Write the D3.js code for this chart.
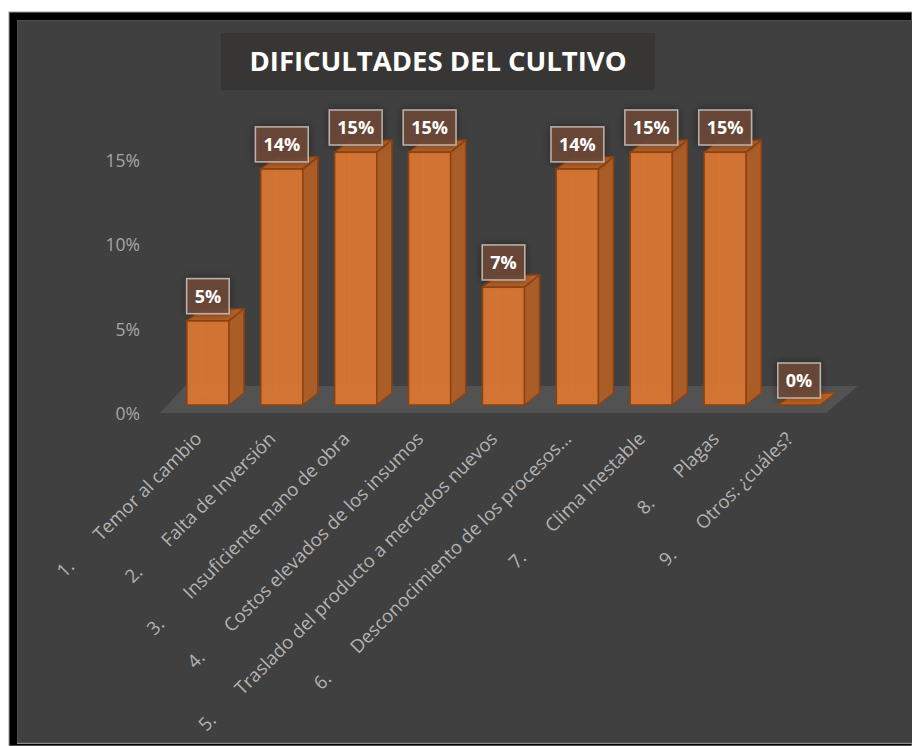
<!DOCTYPE html>
<html>
<head>
<meta charset="utf-8">
<script src="https://cdn.jsdelivr.net/npm/d3@7"></script>
<style>
  body { margin: 0; background: #fff; }
  svg { display: block; font-family: "Open Sans", sans-serif; }
</style>
</head>
<body>
<div id="chart"></div>
<script>
var numeros = ["1.", "2.", "3.", "4.", "5.", "6.", "7.", "8.", "9."]
var categorias = ["Temor al cambio", "Falta de Inversión", "Insuficiente mano de obra", "Costos elevados de los insumos", "Traslado del producto a mercados nuevos", "Desconocimiento de los procesos...", "Clima Inestable", "Plagas", "Otros: ¿cuáles?"]
var porcentajes = [0.05, 0.14, 0.15, 0.15, 0.07, 0.14, 0.15, 0.15, 0]
var ticksY = [0, 0.05, 0.10, 0.15]
var titulo = "DIFICULTADES DEL CULTIVO"

var data = categorias.map((c, i) => ({num: numeros[i], cat: c, val: porcentajes[i]}))

function barChart3d(data) {
    var W = 912, H = 746
    var dx = 15, dy = -12       // depth of the 3d bars
    var lift = 9                // bars stand a bit behind the axis zero

    var svg = d3.select("#chart").append("svg")
        .attr("width", W)
        .attr("height", H)

    var defs = svg.append("defs")
    defs.append("filter").attr("id", "sombra")
        .attr("x", "-50%").attr("y", "-50%").attr("width", "200%").attr("height", "200%")
        .append("feDropShadow")
        .attr("dx", 0).attr("dy", 0).attr("stdDeviation", 4)
        .attr("flood-color", "#000").attr("flood-opacity", 0.45)

    // frame
    svg.append("rect").attr("x", 9).attr("y", 12).attr("width", W - 9).attr("height", H - 12)
        .attr("fill", "#000").attr("stroke", "#9a9a9a").attr("stroke-width", 1)
    svg.append("rect").attr("x", 17.5).attr("y", 20.5).attr("width", W - 17).attr("height", 722)
        .attr("fill", "#404040").attr("stroke", "#4d4d4d").attr("stroke-width", 1)
    svg.append("line").attr("x1", 17).attr("x2", W).attr("y1", 743.5).attr("y2", 743.5)
        .attr("stroke", "#8a8a8a").attr("stroke-width", 1)

    // title
    svg.append("rect").attr("x", 221).attr("y", 33).attr("width", 434).attr("height", 57)
        .attr("fill", "#383634")
    svg.append("text")
        .attr("x", 438).attr("y", 71)
        .attr("text-anchor", "middle")
        .attr("font-size", "26px").attr("font-weight", "bold")
        .attr("fill", "#fff")
        .attr("textLength", 377).attr("lengthAdjust", "spacingAndGlyphs")
        .text(titulo)

    var xScale = d3.scaleBand()
        .domain(data.map(d => d.cat))
        .range([171, 836])
        .paddingInner(0.43)
        .paddingOuter(0.215)

    var yScale = d3.scaleLinear()
        .domain([0, 0.15])
        .range([414, 161])

    var bw = xScale.bandwidth()
    var base = yScale(0) - lift
    var r0 = xScale.range()[0], r1 = xScale.range()[1]

    // floor
    svg.append("path")
        .attr("d", `M${r0 - 11},${yScale(0) - 1} L${r0 + 14},386 L${r1 + 22},386 L${r1 - 10},${yScale(0) - 1} Z`)
        .attr("fill", "#525252")

    // y axis
    var gy = svg.append("g")
        .attr("transform", "translate(140,0)")
        .call(d3.axisLeft(yScale).tickValues(ticksY).tickFormat(d3.format(".0%")).tickSize(0).tickPadding(0))
    gy.select(".domain").remove()
    gy.selectAll("text")
        .attr("font-family", "Open Sans")
        .attr("font-size", "17.5px")
        .attr("fill", "#a6a6a6")

    // bars
    var bars = svg.selectAll(".bar")
        .data(data)
        .enter().append("g")
        .attr("class", "bar")

    var stroke = "#8f4210"

    bars.each(function(d) {
        var g = d3.select(this)
        var x0 = xScale(d.cat), x1 = x0 + bw
        var yt = yScale(d.val) - lift
        // hidden back edges seen through the bar
        g.append("path")
            .attr("d", `M${x0},${base} L${x0 + dx},${base + dy} L${x1 + dx},${base + dy} M${x0 + dx},${base + dy} L${x0 + dx},${yt + dy}`)
            .attr("fill", "none").attr("stroke", "#e0843d").attr("stroke-width", 1).attr("opacity", 0.8)
        if (base - yt > 0.5) {
            g.append("rect")
                .attr("x", x0).attr("y", yt).attr("width", bw).attr("height", base - yt)
                .attr("fill", "#d87633").attr("fill-opacity", 0.95)
                .attr("stroke", stroke).attr("stroke-width", 1.5)
            g.append("path")
                .attr("d", `M${x1},${yt} L${x1 + dx},${yt + dy} L${x1 + dx},${base + dy} L${x1},${base} Z`)
                .attr("fill", "#ab5d28")
                .attr("stroke", stroke).attr("stroke-width", 1.5).attr("stroke-linejoin", "round")
        }
        g.append("path")
            .attr("d", `M${x0},${yt} L${x0 + dx},${yt + dy} L${x1 + dx},${yt + dy} L${x1},${yt} Z`)
            .attr("fill", d.val > 0 ? "#b4622b" : "#c0631f")
            .attr("stroke", stroke).attr("stroke-width", 1.5).attr("stroke-linejoin", "round")
    })

    // value labels
    var fmt = d3.format(".0%")
    bars.each(function(d) {
        var g = d3.select(this)
        var cx = xScale(d.cat) + bw / 2
        var bottom = yScale(d.val) - lift - 7
        var lab = g.append("g")
        var box = lab.append("rect")
        var t = lab.append("text")
            .attr("x", cx).attr("y", bottom - 11)
            .attr("text-anchor", "middle")
            .attr("font-size", "18px").attr("font-weight", "bold")
            .attr("fill", "#fff")
            .text(fmt(d.val))
        var w = t.node().getComputedTextLength() + 16
        box.attr("x", cx - w / 2).attr("y", bottom - 35).attr("width", w).attr("height", 35)
            .attr("fill", "#6c4838").attr("fill-opacity", 0.9)
            .attr("stroke", "#bdb3ac").attr("stroke-width", 1.5)
            .attr("filter", "url(#sombra)")
    })

    // category labels
    var labels = svg.selectAll(".cat")
        .data(data)
        .enter().append("text")
        .attr("class", "cat")
        .attr("transform", d => `translate(${xScale(d.cat) + bw / 2 - 5},440) rotate(-45)`)
        .attr("text-anchor", "end")
        .attr("font-size", "18.5px")
        .attr("fill", "#b3b3b3")
    labels.append("tspan").text(d => d.num)
    labels.append("tspan").attr("dx", 36).text(d => d.cat)
}

barChart3d(data)
</script>
</body>
</html>
